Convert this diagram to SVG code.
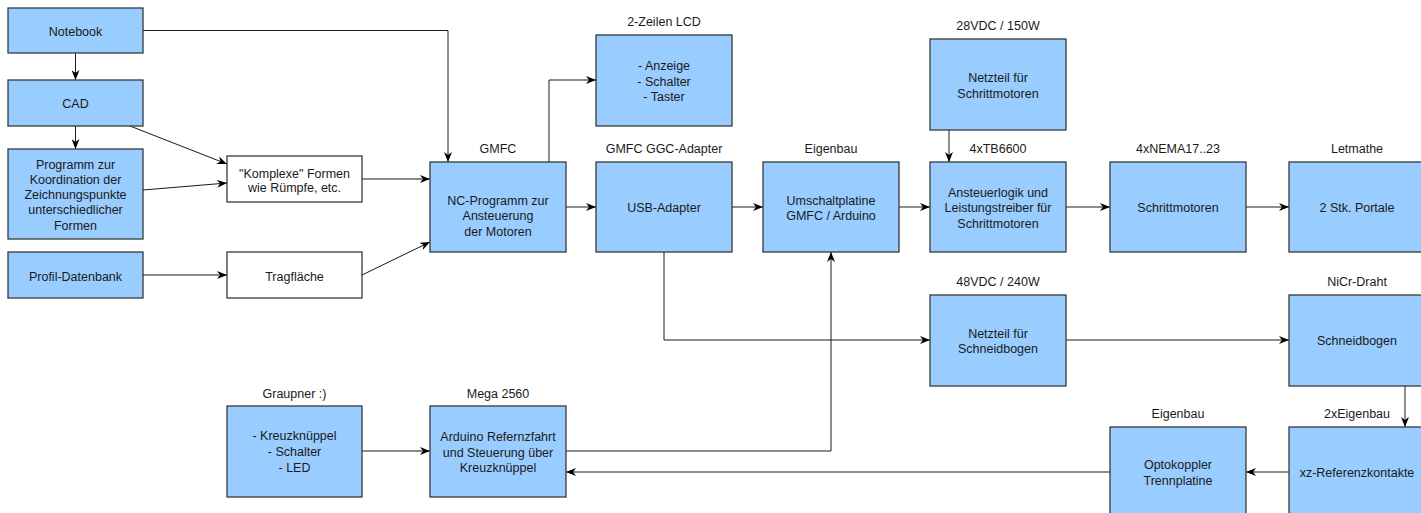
<svg xmlns="http://www.w3.org/2000/svg" width="1421" height="513" viewBox="0 0 1421 513">
<style>
.b{fill:#99CCFF;stroke:#36393D;stroke-width:1.3}
.w{fill:#FFFFFF;stroke:#36393D;stroke-width:1.3}
text{font-family:"Liberation Sans",Arial,sans-serif;font-size:12.5px;fill:#1a1a1a;text-anchor:middle}
.c path{fill:none;stroke:#1a1a1a;stroke-width:1;marker-end:url(#a)}
.c path.n{marker-end:none}
</style>
<defs>
<marker id="a" viewBox="0 0 10 8" refX="10" refY="4" markerWidth="10" markerHeight="8" orient="auto" markerUnits="userSpaceOnUse">
<path d="M0,0 L10,4 L0,8 L3,4 Z" fill="#000"/>
</marker>
</defs>
<rect width="1421" height="513" fill="#fff"/>
<g class="c" id="connectors">
<path d="M75.5,53 V80"/>
<path d="M75.5,126 V149"/>
<path d="M130,126 L227,164"/>
<path d="M143,190 L227,183"/>
<path d="M143,275 H227"/>
<path d="M143,30.5 H448 V162"/>
<path d="M362,179 H430"/>
<path d="M362,275 L430,242"/>
<path d="M549,162 V80 H596"/>
<path d="M566,207 H596"/>
<path d="M732,207 H763"/>
<path d="M899,207 H930"/>
<path d="M949,130 V162"/>
<path d="M1066,207 H1110"/>
<path d="M1246,207 H1289"/>
<path d="M664,252 V340 H930"/>
<path d="M1066,340 H1289"/>
<path d="M1405,386 V427"/>
<path d="M1289,472 H1246"/>
<path d="M1110,472 H566"/>
<path d="M362,451 H430"/>
<path d="M566,451 H831 V252"/>
</g>
<g id="notebook"><rect class="b" x="8" y="8" width="135" height="45"/><text x="75.5" y="36">Notebook</text></g>
<g id="cad"><rect class="b" x="8" y="80" width="135" height="46"/><text x="75.5" y="108">CAD</text></g>
<g id="programm"><rect class="b" x="8" y="149" width="135" height="90"/>
<text x="75.5" y="168.5">Programm zur</text><text x="75.5" y="183.5">Koordination der</text><text x="75.5" y="198.8">Zeichnungspunkte</text><text x="75.5" y="214.2">unterschiedlicher</text><text x="75.5" y="229.8">Formen</text></g>
<g id="profil"><rect class="b" x="8" y="252" width="135" height="46"/><text x="75.5" y="280.5">Profil-Datenbank</text></g>
<g id="komplexe"><rect class="w" x="227" y="156" width="135" height="46"/><text x="294.5" y="177.6">"Komplexe" Formen</text><text x="294.5" y="192">wie Rümpfe, etc.</text></g>
<g id="tragflaeche"><rect class="w" x="227" y="252" width="135" height="46"/><text x="294.5" y="280.8">Tragfläche</text></g>
<g id="nc"><text x="498" y="152.6">GMFC</text><rect class="b" x="430" y="162" width="136" height="90"/>
<text x="498" y="204.6">NC-Programm zur</text><text x="498" y="220">Ansteuerung</text><text x="498" y="235.6">der Motoren</text></g>
<g id="lcd"><text x="664" y="25.5">2-Zeilen LCD</text><rect class="b" x="596" y="35" width="136" height="91"/>
<text x="664" y="70">- Anzeige</text><text x="664" y="85.6">- Schalter</text><text x="664" y="101">- Taster</text></g>
<g id="usb"><text x="664" y="152.6">GMFC GGC-Adapter</text><rect class="b" x="596" y="162" width="136" height="90"/><text x="664" y="211.6">USB-Adapter</text></g>
<g id="umschalt"><text x="831" y="152.6">Eigenbau</text><rect class="b" x="763" y="162" width="136" height="90"/>
<text x="831" y="204.6">Umschaltplatine</text><text x="831" y="220">GMFC / Arduino</text></g>
<g id="netzteil-s"><text x="998" y="29.5">28VDC / 150W</text><rect class="b" x="930" y="39" width="136" height="91"/>
<text x="998" y="82">Netzteil für</text><text x="998" y="97.6">Schrittmotoren</text></g>
<g id="ansteuer"><text x="998" y="152.6">4xTB6600</text><rect class="b" x="930" y="162" width="136" height="90"/>
<text x="998" y="197">Ansteuerlogik und</text><text x="998" y="212">Leistungstreiber für</text><text x="998" y="227.6">Schrittmotoren</text></g>
<g id="schrittmotoren"><text x="1178" y="152.6">4xNEMA17..23</text><rect class="b" x="1110" y="162" width="136" height="90"/><text x="1178" y="212">Schrittmotoren</text></g>
<g id="portale"><text x="1357" y="152.6">Letmathe</text><rect class="b" x="1289" y="162" width="136" height="90"/><text x="1357" y="212">2 Stk. Portale</text></g>
<g id="netzteil-sb"><text x="998" y="286">48VDC / 240W</text><rect class="b" x="930" y="295" width="136" height="91"/>
<text x="998" y="337.6">Netzteil für</text><text x="998" y="353">Schneidbogen</text></g>
<g id="schneidbogen"><text x="1357" y="286">NiCr-Draht</text><rect class="b" x="1289" y="295" width="136" height="91"/><text x="1357" y="345.3">Schneidbogen</text></g>
<g id="graupner"><text x="294.5" y="397.6">Graupner :)</text><rect class="b" x="227" y="406" width="135" height="91"/>
<text x="294.5" y="440.3">- Kreuzknüppel</text><text x="294.5" y="456.3">- Schalter</text><text x="294.5" y="472">- LED</text></g>
<g id="mega"><text x="498" y="397.6">Mega 2560</text><rect class="b" x="430" y="406" width="136" height="91"/>
<text x="498" y="441">Arduino Refernzfahrt</text><text x="498" y="456.6">und Steuerung über</text><text x="498" y="472">Kreuzknüppel</text></g>
<g id="opto"><text x="1178" y="418.3">Eigenbau</text><rect class="b" x="1110" y="427" width="136" height="91"/>
<text x="1178" y="469.3">Optokoppler</text><text x="1178" y="485">Trennplatine</text></g>
<g id="xz"><text x="1357" y="418.3">2xEigenbau</text><rect class="b" x="1289" y="427" width="136" height="91"/><text x="1357" y="476.6">xz-Referenzkontakte</text></g>
</svg>
